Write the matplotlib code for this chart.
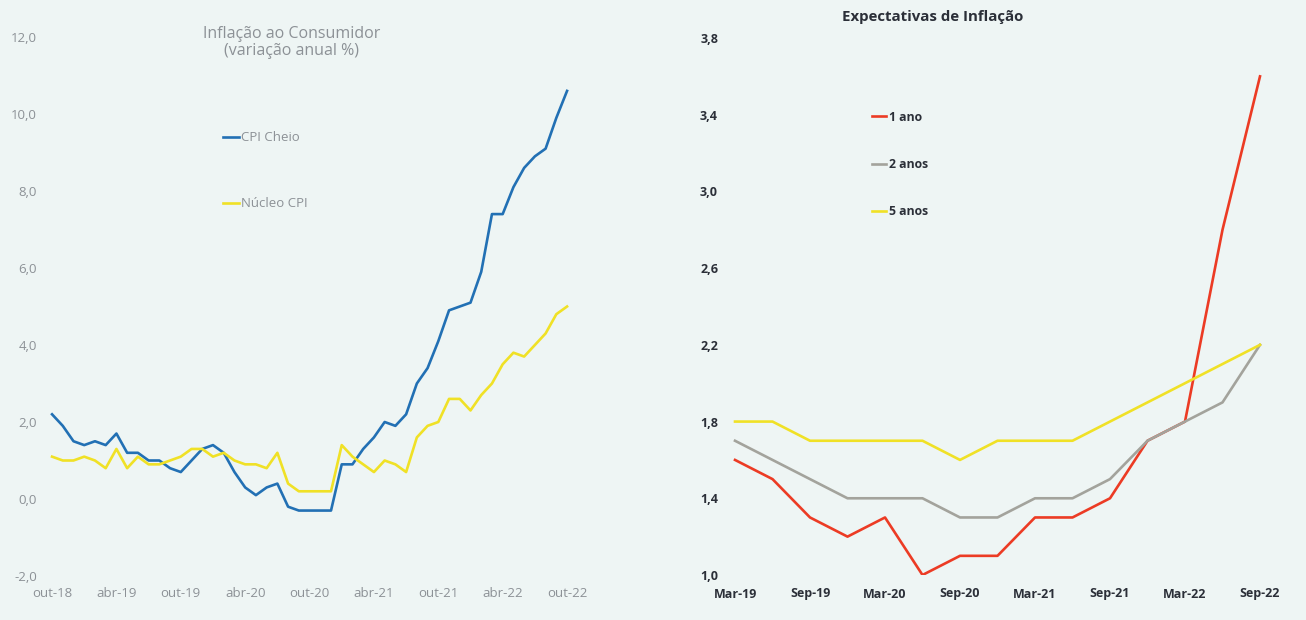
import numpy as np
import matplotlib
matplotlib.use("Agg")
import matplotlib.pyplot as plt

plt.rcParams['font.family'] = ['Open Sans', 'DejaVu Sans']

BG = '#eef5f4'

# inflação ao consumidor, variação anual %, out-18 .. out-22 (mensal)
cpi_cheio = [2.2, 1.9, 1.5,
             1.4, 1.5, 1.4, 1.7, 1.2, 1.2, 1.0, 1.0, 0.8, 0.7, 1.0, 1.3,
             1.4, 1.2, 0.7, 0.3, 0.1, 0.3, 0.4, -0.2, -0.3, -0.3, -0.3, -0.3,
             0.9, 0.9, 1.3, 1.6, 2.0, 1.9, 2.2, 3.0, 3.4, 4.1, 4.9, 5.0,
             5.1, 5.9, 7.4, 7.4, 8.1, 8.6, 8.9, 9.1, 9.9, 10.6]
nucleo_cpi = [1.1, 1.0, 1.0,
              1.1, 1.0, 0.8, 1.3, 0.8, 1.1, 0.9, 0.9, 1.0, 1.1, 1.3, 1.3,
              1.1, 1.2, 1.0, 0.9, 0.9, 0.8, 1.2, 0.4, 0.2, 0.2, 0.2, 0.2,
              1.4, 1.1, 0.9, 0.7, 1.0, 0.9, 0.7, 1.6, 1.9, 2.0, 2.6, 2.6,
              2.3, 2.7, 3.0, 3.5, 3.8, 3.7, 4.0, 4.3, 4.8, 5.0]
meses_tick = ['out-18', 'abr-19', 'out-19', 'abr-20', 'out-20',
              'abr-21', 'out-21', 'abr-22', 'out-22']

# expectativas de inflação, trimestral Mar-19 .. Sep-22
exp_1ano = [1.6, 1.5, 1.3, 1.2, 1.3, 1.0, 1.1, 1.1, 1.3, 1.3, 1.4, 1.7, 1.8, 2.8, 3.6]
exp_2anos = [1.7, 1.6, 1.5, 1.4, 1.4, 1.4, 1.3, 1.3, 1.4, 1.4, 1.5, 1.7, 1.8, 1.9, 2.2]
exp_5anos = [1.8, 1.8, 1.7, 1.7, 1.7, 1.7, 1.6, 1.7, 1.7, 1.7, 1.8, 1.9, 2.0, 2.1, 2.2]
trim_tick = ['Mar-19', 'Sep-19', 'Mar-20', 'Sep-20', 'Mar-21',
             'Sep-21', 'Mar-22', 'Sep-22']

W, H = 1306, 620
fig = plt.figure(figsize=(W / 100, H / 100), dpi=100, facecolor=BG)


def px_axes(x0, x1, ytop, ybot):
    return fig.add_axes([x0 / W, 1 - ybot / H, (x1 - x0) / W, (ybot - ytop) / H])


# ---- painel esquerdo ----
ax1 = px_axes(44, 600, 37, 576)
ax1.set_facecolor(BG)
meses = np.arange(len(cpi_cheio))
ax1.plot(meses, cpi_cheio, color='#2270b4', lw=1.9, label='CPI Cheio')
ax1.plot(meses, nucleo_cpi, color='#f0e126', lw=1.9, label='Núcleo CPI')
ax1.set_xlim(-0.75, 51.07)
ax1.set_ylim(-2, 12)
ax1.set_yticks(np.arange(-2, 12.1, 2))
ax1.set_yticklabels([f'{v:.1f}'.replace('.', ',') for v in np.arange(-2, 12.1, 2)])
ax1.set_xticks(np.arange(0, len(meses), 6))
ax1.set_xticklabels(meses_tick)
ax1.tick_params(length=0, colors='#8c9196', labelsize=9.5)
ax1.tick_params(axis='y', pad=5)
ax1.tick_params(axis='x', pad=8)
for s in ax1.spines.values():
    s.set_visible(False)
ax1.text(0.445, 0.99, 'Inflação ao Consumidor\n(variação anual %)',
         transform=ax1.transAxes, ha='center', va='center',
         fontsize=11.5, color='#8c9196', linespacing=1.1)
ax1.legend(loc='upper left', bbox_to_anchor=(0.3, 0.847), frameon=False,
           handlelength=1.2, handletextpad=0.2, labelspacing=4.0,
           fontsize=9.5, labelcolor='#8c9196')

# ---- painel direito ----
ax2 = px_axes(725, 1290, 38, 575)
ax2.set_facecolor(BG)
trim = np.arange(len(exp_1ano))
ax2.plot(trim, exp_1ano, color='#ec3b24', lw=1.9, label='1 ano')
ax2.plot(trim, exp_2anos, color='#a3a39c', lw=1.9, label='2 anos')
ax2.plot(trim, exp_5anos, color='#f0e126', lw=1.9, label='5 anos')
ax2.set_xlim(-0.267, 14.8)
ax2.set_ylim(1.0, 3.8)
yt = np.arange(1.0, 3.81, 0.4)
ax2.set_yticks(yt)
ax2.set_yticklabels([f'{v:.1f}'.replace('.', ',') for v in yt])
ax2.set_xticks(np.arange(0, len(trim), 2))
ax2.set_xticklabels(trim_tick)
ax2.tick_params(length=0, colors='#2b2f38', labelsize=9)
for lab in ax2.get_xticklabels() + ax2.get_yticklabels():
    lab.set_fontweight('bold')
ax2.tick_params(axis='y', pad=5)
ax2.tick_params(axis='x', pad=9)
for s in ax2.spines.values():
    s.set_visible(False)
ax2.text(0.368, 1.04, 'Expectativas de Inflação', transform=ax2.transAxes,
         ha='center', va='center', fontsize=10.8, fontweight='bold', color='#2b2f38')
ax2.legend(loc='upper left', bbox_to_anchor=(0.24, 0.885), frameon=False,
           handlelength=1.2, handletextpad=0.2, labelspacing=2.8,
           prop={'size': 8.8, 'weight': 'bold'}, labelcolor='#2b2f38')

fig.savefig('out.png', dpi=100, facecolor=BG)
